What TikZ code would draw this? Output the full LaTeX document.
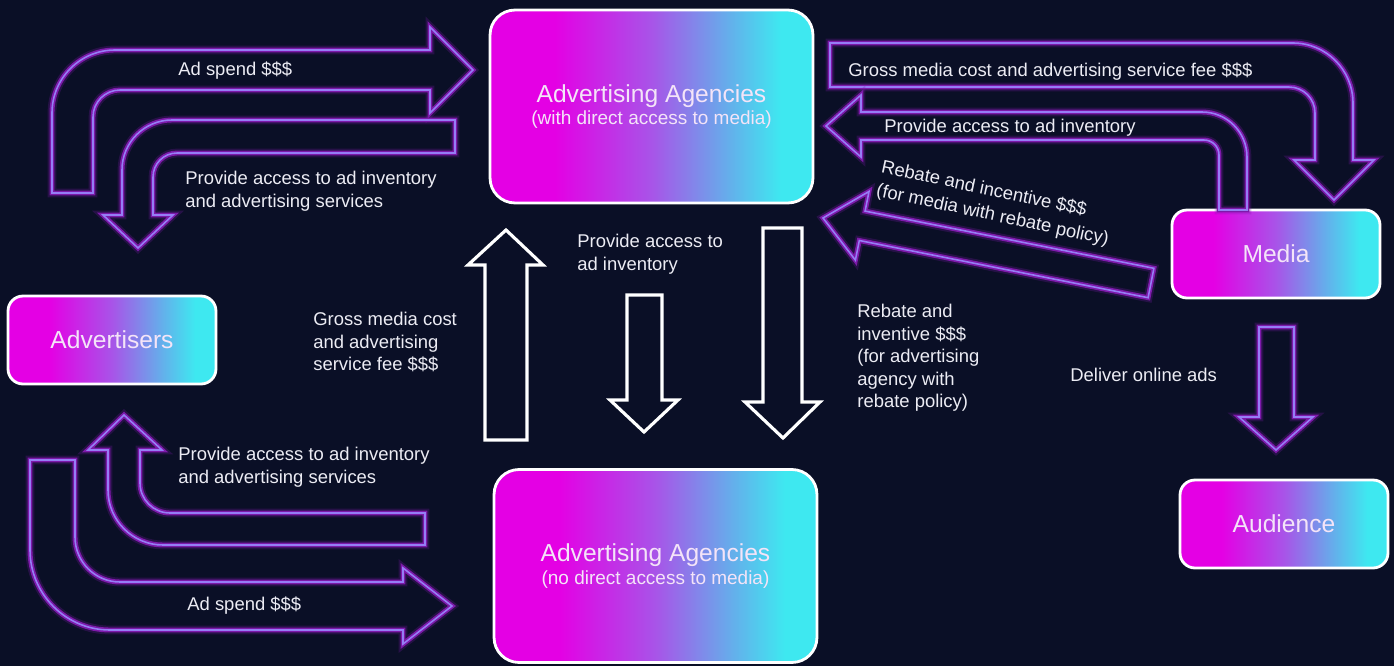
\documentclass[tikz,border=0pt]{standalone}
\usepackage{fontspec}
\setmainfont{Liberation Sans}
\definecolor{bg}{RGB}{10,15,38}
\definecolor{mag}{RGB}{228,0,228}
\definecolor{midp}{RGB}{168,84,232}
\definecolor{lblu}{RGB}{100,175,235}
\definecolor{cyn}{RGB}{62,232,240}
\definecolor{glowp}{RGB}{125,25,170}
\definecolor{lav}{RGB}{150,125,245}
\definecolor{txt}{RGB}{236,236,244}
\definecolor{ttl}{RGB}{244,228,248}
\pgfdeclarehorizontalshading{boxgrad}{100bp}{color(0bp)=(mag); color(35bp)=(mag); color(50bp)=(midp); color(62bp)=(lblu); color(70bp)=(cyn); color(100bp)=(cyn)}
\begin{document}
\begin{tikzpicture}[x=0.02cm,y=-0.02cm,
  bigbox/.style={shade, shading=boxgrad, draw=white, line width=1.6pt, rounded corners=0.5cm, inner sep=0pt, text=ttl, align=center, minimum width=6.46cm, minimum height=3.86cm},
  smallbox/.style={shade, shading=boxgrad, draw=white, line width=1.6pt, rounded corners=0.3cm, inner sep=0pt, text=ttl, minimum width=4.16cm, minimum height=1.76cm, font=\fontsize{14}{17}\selectfont},
  glowarrow/.style={preaction={draw=glowp, line width=5pt, opacity=0.25}, preaction={draw=glowp, line width=2.8pt}, draw=lav, line width=0.9pt, line join=miter},
  whitearrow/.style={draw=white, line width=1.8pt, line join=miter},
  lbl/.style={text=txt, font=\fontsize{10.5}{12.8}\selectfont, align=left, inner sep=0pt, anchor=north west}]
\fill[bg] (0,0) rectangle (1394,666);
\useasboundingbox (0,0) rectangle (1394,666);

% boxes
\node[bigbox] (agtop) at (651.5,106.5) {\fontsize{14}{17}\selectfont Advertising Agencies\\[1pt]\fontsize{10.8}{13}\selectfont (with direct access to media)};
\node[bigbox] (agbot) at (655.5,566) {\fontsize{14}{17}\selectfont Advertising Agencies\\[1pt]\fontsize{10.8}{13}\selectfont (no direct access to media)};
\node[smallbox] (adv) at (112,340) {Advertisers};
\node[smallbox] (media) at (1276,254) {Media};
\node[smallbox] (aud) at (1284,524) {Audience};

% top-left: Ad spend (to agencies)
\draw[glowarrow] (52,193) [rounded corners=1.26cm] -- (52,50) [sharp corners] -- (430,50) -- (430,27) -- (473,70) -- (430,113) -- (430,90) [rounded corners=0.54cm] -- (93,90) [sharp corners] -- (93,193) -- cycle;
% top-left: provide access (to advertisers)
\draw[glowarrow] (455,120) [rounded corners=1.0cm] -- (122,120) [sharp corners] -- (122,215) -- (103,215) -- (138,248) -- (173,215) -- (153,215) [rounded corners=0.48cm] -- (153,153) [sharp corners] -- (455,153) -- cycle;
% bottom-left: provide access (up to advertisers)
\draw[glowarrow] (425,513) [rounded corners=0.6cm] -- (140,513) [sharp corners] -- (140,450) -- (162,450) -- (124,415) -- (88,450) -- (108,450) [rounded corners=1.1cm] -- (108,545) [sharp corners] -- (425,545) -- cycle;
% bottom-left: ad spend (to agencies)
\draw[glowarrow] (75,460) [rounded corners=0.9cm] -- (75,582) [sharp corners] -- (403,582) -- (403,568) -- (452,606) -- (403,644) -- (403,630) [rounded corners=1.6cm] -- (30,630) [sharp corners] -- (30,460) -- cycle;
% right: gross media cost (to media)
\draw[glowarrow] (830,43) [rounded corners=1.2cm] -- (1353,43) [sharp corners] -- (1353,160) -- (1374,160) -- (1334,200) -- (1294,160) -- (1315,160) [rounded corners=0.52cm] -- (1315,87) [sharp corners] -- (830,87) -- cycle;
% right: provide access (from media)
\draw[glowarrow] (1219,210) [rounded corners=0.3cm] -- (1219,140) [sharp corners] -- (861,140) -- (861,157) -- (826,126) -- (861,95) -- (861,112) [rounded corners=0.9cm] -- (1247,112) [sharp corners] -- (1247,210) -- cycle;
% right: rebate diagonal
\draw[glowarrow] (823,218) -- (869,191.5) -- (865.1,211.1) -- (1153.9,268.3) -- (1148.1,297.7) -- (859.3,240.5) -- (855.4,260.1) -- cycle;
% deliver online ads
\draw[glowarrow] (1259,327) -- (1294,327) -- (1294,417) -- (1313,417) -- (1276,450) -- (1239,417) -- (1259,417) -- cycle;

% white arrows
\draw[whitearrow] (485,440) -- (485,265) -- (468,265) -- (506,230) -- (543,265) -- (527,265) -- (527,440) -- cycle;
\draw[whitearrow] (627,295) -- (662,295) -- (662,400) -- (678,400) -- (644,432) -- (610,400) -- (627,400) -- cycle;
\draw[whitearrow] (763,228) -- (802,228) -- (802,402) -- (820,402) -- (783,438) -- (745,402) -- (763,402) -- cycle;

% labels
\node[lbl] (l1) at (178,61) {Ad spend \$\$\$};
\node[lbl] (l2) at (185,171) {Provide access to ad inventory\\and advertising services};
\node[lbl] (l3) at (577,234) {Provide access to\\ad inventory};
\node[lbl] (l4) at (313,312) {Gross media cost\\and advertising\\service fee \$\$\$};
\node[lbl] (l5) at (857,304) {Rebate and\\inventive \$\$\$\\(for advertising\\agency with\\rebate policy)};
\node[lbl] (l6) at (1070,368) {Deliver online ads};
\node[lbl] (l7) at (848,62) {Gross media cost and advertising service fee \$\$\$};
\node[lbl] (l8) at (884,119) {Provide access to ad inventory};
\node[lbl, anchor=center, rotate=-12, font=\fontsize{10.5}{13.6}\selectfont] (l9) at (995,204) {Rebate and incentive \$\$\$\\(for media with rebate policy)};
\node[lbl] (l10) at (178,447) {Provide access to ad inventory\\and advertising services};
\node[lbl] (l11) at (187,596) {Ad spend \$\$\$};
\end{tikzpicture}
\end{document}
